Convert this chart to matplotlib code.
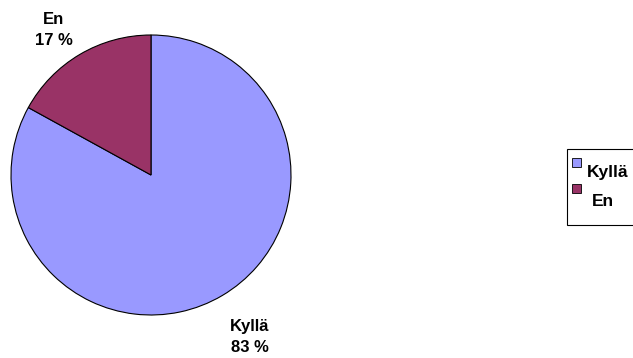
import matplotlib
matplotlib.use("Agg")
import matplotlib.pyplot as plt
from matplotlib.patches import Rectangle

# data
labels = ["Kyllä", "En"]
shares = [83, 17]
colors = ["#9999FF", "#993366"]

W, H = 633, 358
plt.rcParams['font.family'] = ['Liberation Sans', 'DejaVu Sans']

fig = plt.figure(figsize=(W / 100, H / 100), dpi=100)
ax = fig.add_axes([0, 0, 1, 1])

# pie, placed in pixel coordinates (y measured from bottom)
cx, cy, r = 151, H - 175, 140
ax.pie(shares, colors=colors, startangle=90, counterclock=False,
       center=(cx, cy), radius=r,
       wedgeprops=dict(edgecolor="black", linewidth=0.8))

ax.set_xlim(0, W)
ax.set_ylim(0, H)
ax.set_aspect("equal")
ax.axis("off")

# data labels
label_pos = [(250, 337), (54, 30)]
for lab, val, (x, y) in zip(labels, shares, label_pos):
    ax.text(x, H - y, f"{lab}\n{val} %", ha="center", va="center",
            fontsize=12, fontweight="bold", linespacing=1.45)

# legend box (Excel-like)
ax.add_patch(Rectangle((567, H - 225), 80, 76, facecolor="white",
                       edgecolor="black", linewidth=0.8, clip_on=False))
marker_y = [162, 188]
text_pos = [(587, 173), (592, 201)]
for lab, col, my, (tx, ty) in zip(labels, colors, marker_y, text_pos):
    ax.add_patch(Rectangle((572, H - my - 4.5), 9, 9, facecolor=col,
                           edgecolor="black", linewidth=0.6))
    ax.text(tx, H - ty, lab, ha="left", va="center",
            fontsize=12.5, fontweight="bold")

fig.savefig("out.png", dpi=100)
